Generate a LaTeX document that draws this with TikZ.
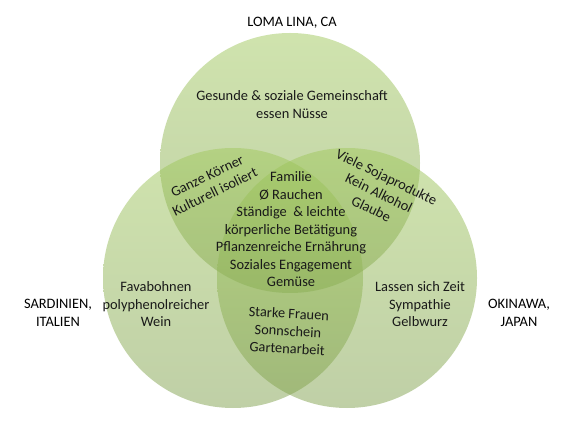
\documentclass[tikz,border=0pt]{standalone}
\usepackage{fontspec}
\setmainfont{Carlito}
\usepackage{xcolor}
\usepackage{tikz}
\usetikzlibrary{positioning}
\definecolor{venntop}{RGB}{160,200,92}
\definecolor{vennbot}{RGB}{128,160,78}
\definecolor{vtext}{RGB}{25,25,25}
\begin{document}
\begin{tikzpicture}[x=1pt,y=-1pt,line cap=round,line join=round,
  venn/.style={top color=venntop,bottom color=vennbot,opacity=.5},
  txt/.style={align=center,text=vtext,inner sep=0pt,font=\fontsize{14.4}{17.5}\selectfont},
  place/.style={txt,text=black}]
\useasboundingbox(0,0)rectangle(578,427);
% circles
\shade[venn](290,163)circle(130);
\shade[venn](233,278)circle(130);
\shade[venn](347,278)circle(130);
% places
\node[place](loma)at(292,23){LOMA LINA, CA};
\node[place](sard)at(58,313){SARDINIEN,\\ITALIEN};
\node[place](okin)at(519,313){OKINAWA,\\JAPAN};
% single regions
\node[txt](lomatxt)at(292,104.5){Gesunde \& soziale Gemeinschaft\\essen Nüsse};
\node[txt](sardtxt)at(156,304.5){Favabohnen\\polyphenolreicher\\Wein};
\node[txt](okintxt)at(420,304.5){Lassen sich Zeit\\Sympathie\\Gelbwurz};
% overlaps
\node[txt,rotate=26](lsx)at(211,184){Ganze Körner\\Kulturell isoliert};
\node[txt,rotate=-26](lox)at(379,193){Viele Sojaprodukte\\Kein Alkohol\\Glaube};
\node[txt,rotate=-3](sox)at(288,331){Starke Frauen\\Sonnschein\\Gartenarbeit};
\node[txt](all)at(291,229.5){Familie\\Ø Rauchen\\Ständige\ \ \& leichte\\körperliche Betätigung\\Pflanzenreiche Ernährung\\Soziales Engagement\\Gemüse};
\end{tikzpicture}
\end{document}
